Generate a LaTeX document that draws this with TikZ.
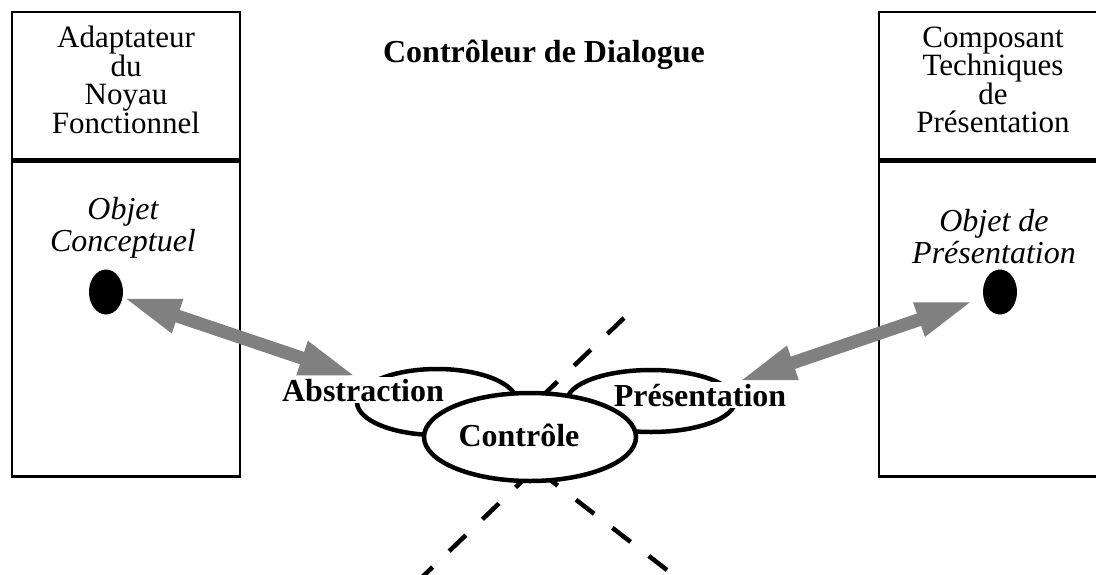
\documentclass[tikz,border=0pt]{standalone}
\usepackage{fontspec}
\setmainfont{Liberation Serif}
\usetikzlibrary{positioning,arrows.meta,shapes.geometric}

\begin{document}
\begin{tikzpicture}[x=1pt, y=-1pt,
    panel/.style={rectangle, draw=black, line width=2.5pt, minimum width=228pt, inner sep=0pt},
    head/.style={panel, minimum height=147pt, align=center, text depth=12pt, font=\fontsize{31}{28.5}\selectfont},
    body/.style={panel, minimum height=315pt},
    objet/.style={align=center, font=\fontsize{32}{32}\selectfont\itshape},
    dot/.style={ellipse, fill=black, minimum width=34pt, minimum height=45pt, inner sep=0pt},
    facet/.style={ellipse, draw=black, line width=4.5pt, inner sep=0pt},
    facetname/.style={font=\fontsize{32}{34}\selectfont\bfseries, fill=white, inner sep=2pt, anchor=base},
    link/.style={<->, >={Triangle[length=58pt,width=32pt]}, draw=gray, line width=13pt},
    cut/.style={black, line width=4.5pt, dash pattern=on 23pt off 23pt}
]
\useasboundingbox (0,0) rectangle (1096,574);
\clip (0,0) rectangle (1096,574);

% Panels
\node[head] (nfHead) at (126,85.5) {Adaptateur\\du\\Noyau\\Fonctionnel};
\node[body, below=0pt of nfHead] (nfBody) {};
\node[head] (ctpHead) at (993,85.5) {Composant\\Techniques\\de\\Présentation};
\node[body, below=0pt of ctpHead] (ctpBody) {};

\node[font=\fontsize{32}{34}\selectfont\bfseries, anchor=base] (title) at (544,62) {Contrôleur de Dialogue};

% Objects
\node[objet] (ocText) at (123,228) {Objet\\Conceptuel};
\node[objet] (opText) at (994,237) {Objet de\\Présentation};
\node[dot] (ocDot) at (106,292) {};
\node[dot] (opDot) at (1000,292) {};

% Facets
\node[facet, minimum width=160pt, minimum height=66pt] (absRing) at (437,402) {};
\node[facet, minimum width=168pt, minimum height=62pt] (presRing) at (651,401) {};

% Cut lines
\coordinate (cutA) at (624,318);
\coordinate (cutAin) at (490,446);
\coordinate (cutB) at (416,583);
\coordinate (cutBin) at (540,464);
\coordinate (cutC) at (667,570);
\coordinate (cutCin) at (540,472);
\draw[cut] (cutA) -- (cutAin);
\draw[cut] (cutB) -- (cutBin);
\draw[cut] (cutC) -- (cutCin);

\node[facetname] (abs) at (363,401) {Abstraction};
\node[facetname] (pres) at (700,406) {Présentation};
\node[facet, fill=white, minimum width=212pt, minimum height=88pt] (ctrl) at (530,437) {};
\node[facetname, fill=none] (ctrlText) at (519,446) {Contrôle};

% Links
\draw[link] (ocDot) -- ([xshift=-6pt]abs.north);
\draw[link, shorten >=10pt] ([xshift=38pt]pres.north) -- (opDot);

\end{tikzpicture}
\end{document}
